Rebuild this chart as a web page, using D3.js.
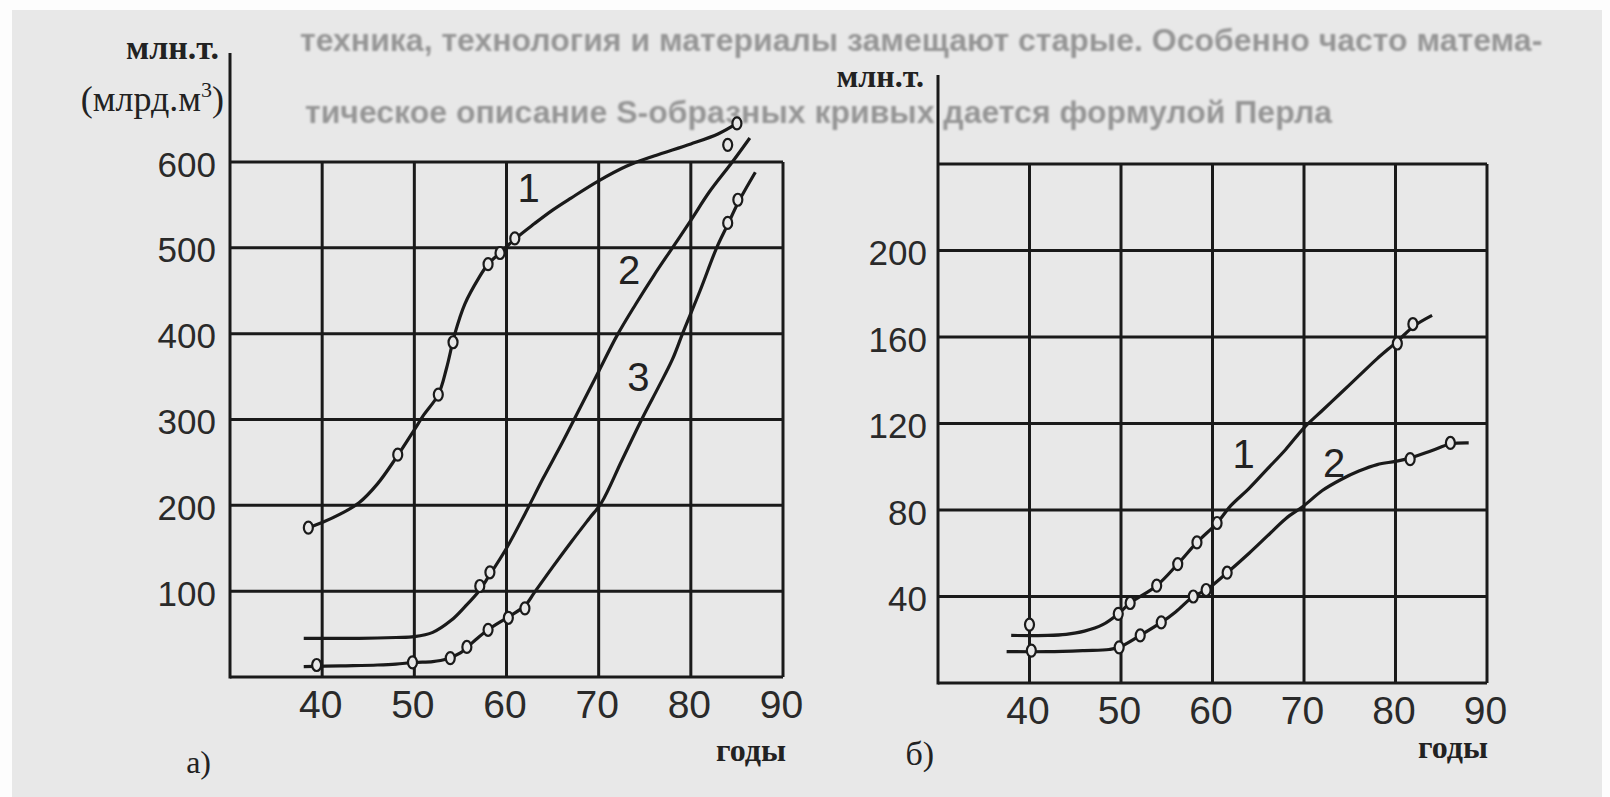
<!DOCTYPE html>
<html>
<head>
<meta charset="utf-8">
<script src="https://cdn.jsdelivr.net/npm/d3@7"></script>
<style>
  body { margin: 0; background: #fff; }
  svg { display: block; }
</style>
</head>
<body>
<svg id="chart" width="1610" height="797"></svg>
<script>
// ---- data: [year, value] ----

// a) left panel, million t (bn m3)
var aCurve1 = [[38.5,174],[40,180],[42,190],[44,203],[46,225],[48,255],[50,288],[51,305],[52.6,329],
  [53.5,360],[54.4,400],[55.5,435],[57,465],[58,481],[59.3,494],[61,511],[63,528],[65,544],[67,558],
  [70,578],[73,595],[76,607],[80,621],[83,633],[85,645]];
var aCurve2 = [[38,45],[44,45],[48,46],[50,47],[52,52],[54,66],[55.5,82],[57,100],[58,116],[60,150],
  [62,190],[64,232],[66,272],[68,314],[70,356],[72,398],[74,434],[76,468],[78,500],[80,532],[82,565],
  [84.5,600],[86.4,628]];
var aCurve3 = [[38,12],[42,13],[46,14],[48,15],[50,17],[52,18],[53.5,21],[55,28],[56.5,42],[58,55],
  [60.2,70],[62,83],[63,98],[65,128],[67,157],[69,185],[70.3,203],[72.5,252],[74.8,303],[76.5,338],
  [78,370],[79.1,400],[81,450],[82.8,500],[84,527],[85.1,552],[87,588]];
var aMarks1 = [[38.5,174],[48.2,259],[52.6,329],[54.2,390],[58,481],[59.3,494],[60.9,511],[85,645]];
var aMarks2 = [[57.1,106],[58.2,122],[84,620]];
var aMarks3 = [[39.4,14],[49.8,17],[53.9,22],[55.7,35],[58,55],[60.2,69],[62,80],[84,529],[85.1,556]];

// b) right panel, million t
var bCurve1 = [[38,22],[42,22],[44,22.5],[46,24],[48,27],[49.7,32],[51,37],[53.9,45],[56.2,55],
  [58.3,65],[60.5,74],[62,82],[64,90],[66,99],[68,108],[70,118],[72,126],[74,134],[76,142],[78,150],
  [80.2,158],[82,165],[84,170]];
var bCurve2 = [[37.5,14.5],[42,14.5],[46,15],[48.7,15.5],[49.8,16.5],[52.1,22],[54.4,28],[56,33],
  [57.9,40],[59.3,43],[61.6,51],[64,60],[66,68],[68,76],[70,82],[72,89],[74,94],[76,98],[78,101],
  [80,102.5],[81.6,104],[84,107.5],[86,110.5],[88,111]];
var bMarks1 = [[40,27],[49.7,32],[51,37],[53.9,45],[56.2,55],[58.3,65],[60.5,74],[80.2,157],[81.9,166]];
var bMarks2 = [[40.2,15],[49.8,16.5],[52.1,22],[54.4,28],[57.9,40],[59.3,43],[61.6,51],[81.6,103.5],[86,111]];

// ticks
var yearTicks = [40, 50, 60, 70, 80, 90];
var aValueTicks = [100, 200, 300, 400, 500, 600];
var bValueTicks = [40, 80, 120, 160, 200];

// book text showing above the figure (scan)
var pageText = [
  ["техника, технология и материалы замещают старые. Особенно часто матема-", 300, 40],
  ["тическое описание S-образных кривых дается формулой Перла", 305, 112]
];

var ink = "#1a1a1a";
var paper = "#e8e8e8";
var svg = d3.select("#chart");

var defs = svg.append("defs");
defs.append("filter").attr("id", "scan").attr("x", "-5%").attr("y", "-50%")
  .attr("width", "110%").attr("height", "200%")
  .append("feGaussianBlur").attr("stdDeviation", 1.2);

// scanned page background
svg.append("rect").attr("width", 1610).attr("height", 797).attr("fill", "#fdfdfd");
svg.append("rect").attr("x", 12).attr("y", 10).attr("width", 1590).attr("height", 787).attr("fill", paper);

svg.append("g").attr("filter", "url(#scan)")
  .selectAll("text").data(pageText).join("text")
  .attr("x", d => d[1]).attr("y", d => d[2]).attr("dy", "0.35em")
  .attr("fill", "#959595")
  .style("font-family", "'Liberation Sans', Arial, sans-serif")
  .style("font-size", "32px").style("font-weight", 700)
  .text(d => d[0]);

function panel(opt) {
  var g = svg.append("g");
  var x = d3.scaleLinear().domain([30, 90]).range(opt.xRange);
  var y = d3.scaleLinear().domain(opt.yDomain).range(opt.yRange);

  // grid (inner lines + frame)
  g.selectAll(".v").data([40, 50, 60, 70, 80, 90]).join("line")
    .attr("x1", d => x(d)).attr("x2", d => x(d))
    .attr("y1", y(opt.yDomain[1])).attr("y2", y(0))
    .attr("stroke", ink).attr("stroke-width", 3);
  g.selectAll(".h").data(opt.yGrid).join("line")
    .attr("x1", x(30)).attr("x2", x(90))
    .attr("y1", d => y(d)).attr("y2", d => y(d))
    .attr("stroke", ink).attr("stroke-width", 3);
  // y axis, taller than the grid
  g.append("line")
    .attr("x1", x(30)).attr("x2", x(30))
    .attr("y1", opt.axisTop).attr("y2", y(0) + 1.5)
    .attr("stroke", ink).attr("stroke-width", 3);

  // tick labels via axes
  var xAxis = d3.axisBottom(x).tickValues(yearTicks).tickSize(0).tickPadding(0);
  var gx = g.append("g").attr("transform", "translate(0," + y(0) + ")").call(xAxis);
  gx.select(".domain").remove();
  gx.selectAll("text")
    .attr("y", opt.xLabelDy).attr("dy", "0.35em").attr("dx", -2)
    .attr("fill", "#2a2a2a")
    .style("font-family", "'Liberation Sans', Arial, sans-serif")
    .style("font-size", "39px");

  var yAxis = d3.axisLeft(y).tickValues(opt.yTicks).tickSize(0).tickPadding(opt.yPad);
  var gy = g.append("g").attr("transform", "translate(" + x(30) + ",0)").call(yAxis);
  gy.select(".domain").remove();
  gy.selectAll("text")
    .attr("dy", "0.4em")
    .attr("fill", "#2a2a2a")
    .style("font-family", "'Liberation Sans', Arial, sans-serif")
    .style("font-size", "35px");

  var line = d3.line()
    .x(d => x(d[0])).y(d => y(d[1]))
    .curve(d3.curveCatmullRom.alpha(0.5));

  opt.curves.forEach(function (c) {
    g.append("path").datum(c)
      .attr("d", line)
      .attr("fill", "none").attr("stroke", ink)
      .attr("stroke-width", 3.2).attr("stroke-linejoin", "round");
  });
  opt.marks.forEach(function (m) {
    g.selectAll(null).data(m).join("ellipse")
      .attr("cx", d => x(d[0])).attr("cy", d => y(d[1]))
      .attr("rx", 4.5).attr("ry", 6)
      .attr("fill", paper).attr("stroke", ink).attr("stroke-width", 2.2);
  });

  // curve numbers
  g.selectAll(".num").data(opt.nums).join("text")
    .attr("x", d => x(d[1])).attr("y", d => y(d[2]))
    .attr("text-anchor", "middle").attr("dy", "0.36em")
    .attr("fill", "#222")
    .style("font-family", "'Liberation Sans', Arial, sans-serif")
    .style("font-size", "40px")
    .text(d => d[0]);

  return { x: x, y: y, g: g };
}

panel({
  xRange: [230, 783], yDomain: [0, 600], yRange: [677, 162],
  yGrid: [0, 100, 200, 300, 400, 500, 600], yTicks: aValueTicks, yPad: 14,
  axisTop: 53, xLabelDy: 27,
  curves: [aCurve1, aCurve2, aCurve3],
  marks: [aMarks1, aMarks2, aMarks3],
  nums: [["1", 62.4, 570], ["2", 73.3, 475], ["3", 74.3, 350]]
});

panel({
  xRange: [938, 1487], yDomain: [0, 240], yRange: [683, 164],
  yGrid: [0, 40, 80, 120, 160, 200, 240], yTicks: bValueTicks, yPad: 11,
  axisTop: 75, xLabelDy: 27,
  curves: [bCurve1, bCurve2],
  marks: [bMarks1, bMarks2],
  nums: [["1", 63.4, 106], ["2", 73.3, 102]]
});

// unit labels and captions
var serif = "'Liberation Serif', 'DejaVu Serif', serif";
function label(t, xx, yy, size, weight) {
  return svg.append("text").attr("x", xx).attr("y", yy)
    .attr("text-anchor", "end").attr("dy", "0.35em")
    .attr("fill", "#222")
    .style("font-family", serif).style("font-size", size + "px")
    .style("font-weight", weight)
    .text(t);
}
label("млн.т.", 219, 47, 34, "bold");
var unit = label("(млрд.м", 224, 98, 36, "normal");
unit.append("tspan").attr("dy", -14).style("font-size", "22px").text("3");
unit.append("tspan").attr("dy", 14).text(")");
label("годы", 786, 750, 32, "bold");
label("а)", 211, 762, 32, "normal");

label("млн.т.", 924, 76, 32, "bold");
label("годы", 1488, 747, 32, "bold");
label("б)", 934, 753, 34, "normal");
</script>
</body>
</html>
